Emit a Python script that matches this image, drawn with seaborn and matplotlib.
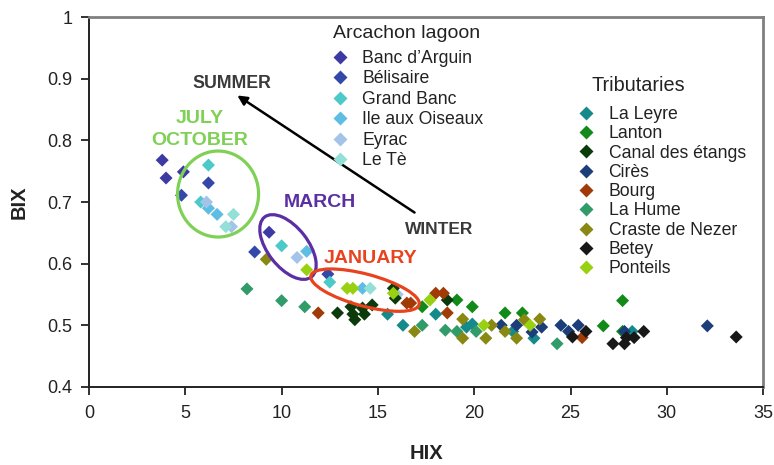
import matplotlib
matplotlib.use("Agg")
import matplotlib.pyplot as plt
import matplotlib.transforms as mtransforms
from matplotlib.patches import Ellipse
from matplotlib.lines import Line2D
import seaborn as sns
import pandas as pd

sns.set_style("white")
plt.rcParams['font.family'] = ['Liberation Sans', 'DejaVu Sans']

# ---------------- data ----------------
lagoon_sites = ["Banc d\u2019Arguin", "B\u00e9lisaire", "Grand Banc", "Ile aux Oiseaux", "Eyrac", "Le T\u00e8"]
tributary_sites = ["La Leyre", "Lanton", "Canal des \u00e9tangs", "Cir\u00e8s", "Bourg", "La Hume",
                   "Craste de Nezer", "Betey", "Ponteils"]

hix = {
    "Banc d\u2019Arguin": [3.8, 4.0, 4.9, 9.35],
    "B\u00e9lisaire": [4.8, 6.2, 8.6, 12.4],
    "Grand Banc": [6.2, 5.8, 10.0, 12.5],
    "Ile aux Oiseaux": [6.2, 6.65, 11.3, 14.2],
    "Eyrac": [6.1, 7.4, 10.8, 16.0],
    "Le T\u00e8": [7.5, 7.1, 14.6],
    "La Leyre": [15.5, 16.3, 18.0, 19.6, 19.9, 22.0, 23.1, 28.2],
    "Lanton": [17.3, 19.1, 19.9, 21.6, 22.5, 27.7, 26.7, 27.7],
    "Canal des \u00e9tangs": [12.9, 13.6, 13.7, 13.8, 14.2, 14.3, 14.7, 15.8, 15.9, 18.6],
    "Cir\u00e8s": [21.4, 22.2, 23.0, 23.5, 24.5, 25.4, 24.9, 27.8, 32.1],
    "Bourg": [11.9, 16.5, 16.7, 18.0, 18.4, 18.6, 25.6],
    "La Hume": [8.2, 10.0, 11.2, 17.3, 18.5, 19.1, 20.1, 24.3],
    "Craste de Nezer": [9.2, 16.9, 19.4, 19.4, 20.6, 20.9, 21.6, 22.2, 22.6, 23.4],
    "Betey": [25.1, 25.8, 27.2, 27.8, 27.9, 28.3, 28.8, 33.6],
    "Ponteils": [11.3, 13.4, 13.7, 15.8, 17.7, 20.5, 22.9],
}
bix = {
    "Banc d\u2019Arguin": [0.768, 0.739, 0.749, 0.651],
    "B\u00e9lisaire": [0.711, 0.731, 0.619, 0.583],
    "Grand Banc": [0.760, 0.700, 0.629, 0.570],
    "Ile aux Oiseaux": [0.690, 0.680, 0.620, 0.560],
    "Eyrac": [0.700, 0.660, 0.610, 0.550],
    "Le T\u00e8": [0.680, 0.660, 0.560],
    "La Leyre": [0.518, 0.500, 0.518, 0.497, 0.502, 0.490, 0.479, 0.490],
    "Lanton": [0.530, 0.541, 0.530, 0.520, 0.520, 0.540, 0.499, 0.490],
    "Canal des \u00e9tangs": [0.520, 0.530, 0.518, 0.509, 0.528, 0.518, 0.533, 0.560, 0.544, 0.541],
    "Cir\u00e8s": [0.500, 0.500, 0.489, 0.497, 0.500, 0.500, 0.490, 0.490, 0.499],
    "Bourg": [0.520, 0.536, 0.536, 0.552, 0.552, 0.520, 0.480],
    "La Hume": [0.559, 0.540, 0.530, 0.500, 0.492, 0.490, 0.490, 0.470],
    "Craste de Nezer": [0.607, 0.490, 0.510, 0.479, 0.479, 0.500, 0.490, 0.479, 0.509, 0.510],
    "Betey": [0.481, 0.490, 0.470, 0.470, 0.480, 0.480, 0.490, 0.481],
    "Ponteils": [0.590, 0.560, 0.560, 0.552, 0.541, 0.500, 0.500],
}
colors = {
    "Banc d\u2019Arguin": "#3d3aa3",
    "B\u00e9lisaire": "#3348a8",
    "Grand Banc": "#4cc9c9",
    "Ile aux Oiseaux": "#5dbde2",
    "Eyrac": "#a3c3e9",
    "Le T\u00e8": "#93e0d8",
    "La Leyre": "#168a8a",
    "Lanton": "#128a1a",
    "Canal des \u00e9tangs": "#0b3a0b",
    "Cir\u00e8s": "#1b3d7a",
    "Bourg": "#a03b08",
    "La Hume": "#319b69",
    "Craste de Nezer": "#888812",
    "Betey": "#181818",
    "Ponteils": "#9ad012",
}

x_ticks = [0, 5, 10, 15, 20, 25, 30, 35]
y_ticks = [0.4, 0.5, 0.6, 0.7, 0.8, 0.9, 1.0]
y_tick_labels = ["0.4", "0.5", "0.6", "0.7", "0.8", "0.9", "1"]

rows = []
for site in lagoon_sites + tributary_sites:
    for xv, yv in zip(hix[site], bix[site]):
        rows.append({"HIX": xv, "BIX": yv, "site": site})
df = pd.DataFrame(rows)

# ---------------- figure ----------------
fig = plt.figure(figsize=(7.74, 4.65), dpi=100)
ax = fig.add_axes([0.115, 0.168, 0.871, 0.795])

sns.scatterplot(data=df, x="HIX", y="BIX", hue="site", palette=colors,
                hue_order=lagoon_sites + tributary_sites, marker="D", s=44,
                edgecolor="none", linewidth=0, legend=False, ax=ax, zorder=3)

ax.set_xlim(0, 35)
ax.set_ylim(0.4, 1.0)
ax.set_xticks(x_ticks)
ax.set_yticks(y_ticks)
ax.set_yticklabels(y_tick_labels)
ax.tick_params(axis="both", which="major", direction="out", length=5.5, width=1.3,
               labelsize=13, colors="#222222", left=True, bottom=True)
ax.tick_params(axis="x", pad=7.5)
ax.tick_params(axis="y", pad=6.5)
ax.set_xlabel("HIX", fontsize=14.5, fontweight="bold", color="#222222")
ax.set_ylabel("BIX", fontsize=14.5, fontweight="bold", color="#222222")
ax.xaxis.set_label_coords(0.5, -0.155)
ax.yaxis.set_label_coords(-0.09, 0.5)

for side in ["left", "bottom"]:
    ax.spines[side].set_color("#222222")
    ax.spines[side].set_linewidth(1.4)
for side in ["top", "right"]:
    ax.spines[side].set_color("#808080")
    ax.spines[side].set_linewidth(2.0)

# ---------------- annotations ----------------
def px_ellipse(cx, cy, w_px, h_px, angle, color):
    trans = fig.dpi_scale_trans + mtransforms.ScaledTranslation(cx, cy, ax.transData)
    e = Ellipse((0, 0), w_px / 100, h_px / 100, angle=angle, transform=trans,
                fill=False, edgecolor=color, linewidth=2.3, zorder=4)
    ax.add_patch(e)

px_ellipse(6.7, 0.713, 81, 86, 0, "#7fd155")
px_ellipse(10.33, 0.627, 76, 40, -52, "#5b2fa3")
px_ellipse(14.33, 0.557, 112, 32, -15, "#e8431f")

ax.annotate("", xy=(7.7, 0.873), xytext=(16.9, 0.683),
            arrowprops=dict(arrowstyle="-|>", color="black", lw=1.8,
                            mutation_scale=14, shrinkA=0, shrinkB=0), zorder=4)
ax.text(7.4, 0.893, "SUMMER", fontsize=12.8, fontweight="bold", color="#3a3a3a",
        ha="center", va="center")
ax.text(18.2, 0.655, "WINTER", fontsize=12.5, fontweight="bold", color="#3a3a3a",
        ha="center", va="center")
ax.text(5.75, 0.836, "JULY", fontsize=14, fontweight="bold", color="#7fd155",
        ha="center", va="center")
ax.text(5.75, 0.800, "OCTOBER", fontsize=14, fontweight="bold", color="#7fd155",
        ha="center", va="center")
ax.text(12.0, 0.700, "MARCH", fontsize=14, fontweight="bold", color="#5b2fa3",
        ha="center", va="center")
ax.text(14.6, 0.609, "JANUARY", fontsize=14, fontweight="bold", color="#e8431f",
        ha="center", va="center")

# ---------------- legends ----------------
def make_handles(sites):
    return [Line2D([0], [0], marker="D", linestyle="none", markersize=7,
                   markerfacecolor=colors[s], markeredgecolor="none") for s in sites]

ax.text(0.362, 0.957, "Arcachon lagoon", transform=ax.transAxes, fontsize=14,
        color="#222222", ha="left", va="center")
leg1 = ax.legend(make_handles(lagoon_sites), lagoon_sites,
                 loc="upper left", bbox_to_anchor=(0.352, 0.931), frameon=False,
                 fontsize=12.7, handlelength=0.8, handletextpad=0.85,
                 labelspacing=0.2, borderaxespad=0, borderpad=0.4)
ax.add_artist(leg1)

ax.text(0.746, 0.816, "Tributaries", transform=ax.transAxes, fontsize=14.3,
        color="#222222", ha="left", va="center")
leg2 = ax.legend(make_handles(tributary_sites), tributary_sites,
                 loc="upper left", bbox_to_anchor=(0.717, 0.779), frameon=False,
                 fontsize=12.7, handlelength=0.8, handletextpad=0.85,
                 labelspacing=0.13, borderaxespad=0, borderpad=0.4)
for t in leg2.get_texts() + leg1.get_texts():
    t.set_color("#222222")

fig.savefig("out.png", dpi=100)
